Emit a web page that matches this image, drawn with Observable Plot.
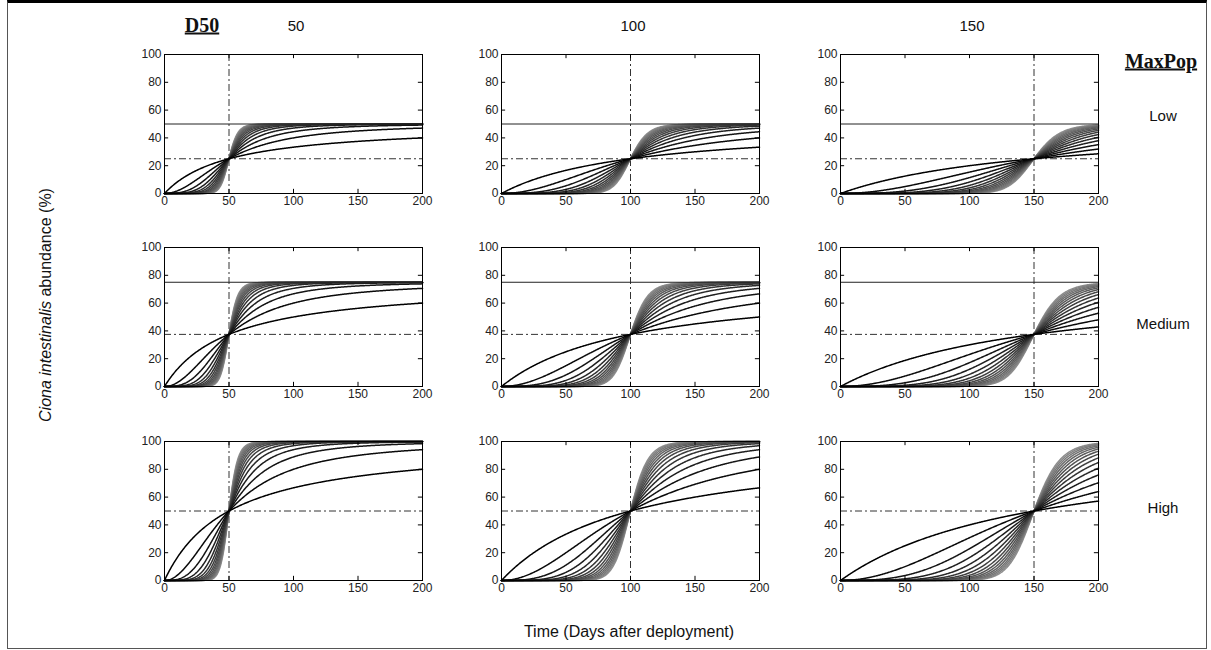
<!DOCTYPE html>
<html><head><meta charset="utf-8">
<script src="https://cdn.jsdelivr.net/npm/d3@7"></script>
<script src="https://cdn.jsdelivr.net/npm/@observablehq/plot@0.6"></script>
<style>
body{margin:0;background:#fff;}
#fig{position:relative;width:1211px;height:650px;overflow:hidden;background:#fff;font-family:"Liberation Sans",Arial,sans-serif;color:#111;}
#box{position:absolute;left:7px;top:0;width:1198px;height:645px;border:1px solid #555;border-top:3px solid #000;}
.t{position:absolute;white-space:nowrap;transform:translate(-50%,-50%);}
.hd{font-family:"Liberation Serif","Times New Roman",serif;font-weight:bold;text-decoration:underline;font-size:20px;}
.lb{font-size:15px;}
.panel{position:absolute;overflow:visible;}
</style></head>
<body><div id="fig"><div id="box"></div></div>
<script>
// ---- data ----
const d50Values = [50, 100, 150];            // columns (days to 50 % of MaxPop)
const d50Labels = ["50", "100", "150"];
const maxPopValues = [50, 75, 100];          // rows (%)
const maxPopLabels = ["Low", "Medium", "High"];
const slopes = [1,2,3,4,5,6,7,8,9,10,11,12,13,14,15]; // curve steepness family
const xTicks = [0, 50, 100, 150, 200];
const yTicks = [0, 20, 40, 60, 80, 100];
const days = d3.range(0, 200.01, 0.5);

// ---- layout ----
const colLeft = [164, 501, 840];
const rowTop = [54, 247, 441];
const pw = 258, ph = 139;
const ml = 34, mr = 16, mt = 8, mb = 22;

const fig = document.getElementById("fig");
function addText(txt, x, y, cls, extra) {
  const d = document.createElement("div");
  d.className = "t " + cls;
  d.innerHTML = txt;
  d.style.left = x + "px"; d.style.top = y + "px";
  if (extra) Object.assign(d.style, extra);
  fig.appendChild(d);
}

d50Values.forEach((D, ci) => {
  maxPopValues.forEach((M, ri) => {
    const rows = [];
    // lighter (steeper) curves first, darker on top
    [...slopes].reverse().forEach(k => {
      days.forEach(t => {
        const a = Math.pow(t, k), b = Math.pow(D, k);
        rows.push({t, k, y: M * a / (a + b)});
      });
    });
    const chart = Plot.plot({
      width: pw + ml + mr, height: ph + mt + mb,
      marginLeft: ml, marginRight: mr, marginTop: mt, marginBottom: mb,
      x: {domain: [0, 200]},
      y: {domain: [0, 100]},
      color: {type: "linear", domain: [1, 15], range: ["#000000", "#8e8e8e"]},
      style: {fontFamily: "Liberation Sans, Arial, sans-serif", fontSize: "12px", color: "#222", background: "transparent", overflow: "visible"},
      marks: [
        Plot.ruleY([M / 2], {stroke: "#333", strokeWidth: 1, strokeDasharray: "7,3,2,3"}),
        Plot.ruleX([D], {stroke: "#333", strokeWidth: 1, strokeDasharray: "7,3,2,3"}),
        Plot.line(rows, {x: "t", y: "y", z: "k", stroke: "k", strokeWidth: 1.5}),
        Plot.ruleY([M], {stroke: "#222", strokeWidth: 1}),
        Plot.ruleX(xTicks, {y1: 0, y2: 3, stroke: "#000"}),
        Plot.ruleX(xTicks, {y1: 97, y2: 100, stroke: "#000"}),
        Plot.ruleY(yTicks, {x1: 0, x2: 3.2, stroke: "#000"}),
        Plot.ruleY(yTicks, {x1: 196.8, x2: 200, stroke: "#000"}),
        Plot.frame({stroke: "#000", strokeWidth: 1}),
        Plot.axisX(xTicks, {tickSize: 0, tickPadding: 3, label: null, fill: "#222"}),
        Plot.axisY(yTicks, {tickSize: 0, tickPadding: 3, label: null, fill: "#222"})
      ]
    });
    chart.classList.add("panel");
    chart.style.left = (colLeft[ci] - ml) + "px";
    chart.style.top = (rowTop[ri] - mt) + "px";
    fig.appendChild(chart);
  });
});

addText("D50", 202, 25, "hd");
const colCenters = colLeft.map(x => x + pw / 2);
d50Labels.forEach((l, i) => addText(l, colCenters[i] + 3, 25, "lb"));
addText("MaxPop", 1161, 61, "hd");
const rowLabelY = [115, 323, 507];
maxPopLabels.forEach((l, i) => addText(l, 1163, rowLabelY[i], "lb"));
addText("<i>Ciona intestinalis</i> abundance (%)", 46, 305, "lb", {transform: "translate(-50%,-50%) rotate(-90deg)", fontSize: "16px"});
addText("Time (Days after deployment)", 629, 632, "lb", {fontSize: "16px"});
</script>
</body></html>
